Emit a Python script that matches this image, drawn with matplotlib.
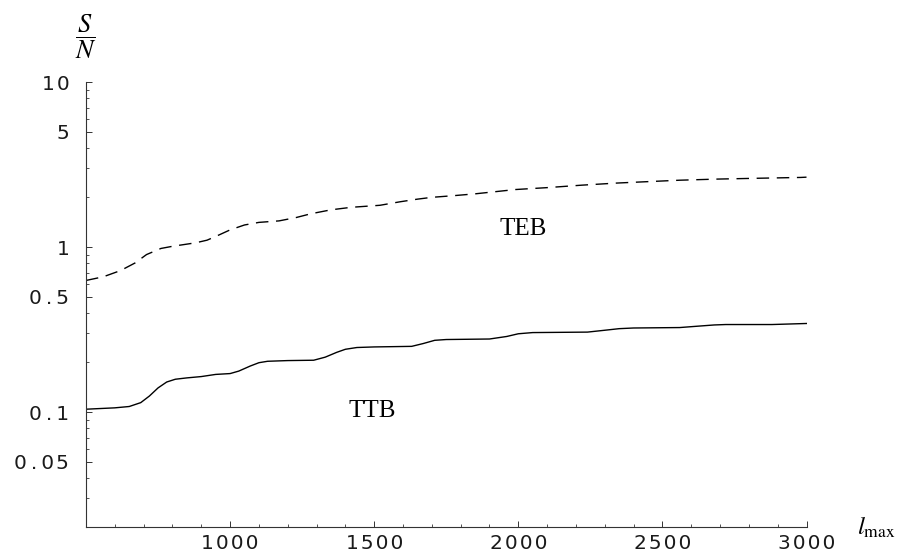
import matplotlib
matplotlib.use("Agg")
import matplotlib.pyplot as plt
from matplotlib.ticker import FixedLocator, FixedFormatter, NullFormatter

# ---- data ----
ttb_l = [500, 550, 600, 650, 690, 720, 750, 780, 810, 850, 900, 950, 1000, 1030,
         1070, 1100, 1130, 1200, 1290, 1330, 1370, 1400, 1440, 1500, 1630, 1670,
         1710, 1750, 1900, 1960, 2000, 2050, 2240, 2300, 2350, 2400, 2560, 2620,
         2680, 2720, 2880, 3000]
ttb_v = [0.104, 0.105, 0.106, 0.108, 0.114, 0.125, 0.140, 0.152, 0.158, 0.161,
         0.164, 0.169, 0.171, 0.177, 0.190, 0.199, 0.203, 0.205, 0.206, 0.215,
         0.230, 0.240, 0.246, 0.248, 0.250, 0.260, 0.272, 0.275, 0.277, 0.287,
         0.298, 0.303, 0.305, 0.313, 0.320, 0.323, 0.325, 0.331, 0.337, 0.339,
         0.339, 0.344]

teb_l = [500, 560, 620, 670, 710, 760, 800, 880, 920, 960, 1000, 1050, 1100, 1170,
         1230, 1280, 1350, 1420, 1520, 1590, 1650, 1700, 1780, 1850, 1990, 2100,
         2220, 2340, 2450, 2560, 2690, 2830, 2980, 3000]
teb_v = [0.627, 0.66, 0.72, 0.80, 0.90, 0.98, 1.01, 1.06, 1.10, 1.18, 1.27, 1.36,
         1.41, 1.44, 1.51, 1.59, 1.68, 1.74, 1.79, 1.88, 1.95, 2.00, 2.05, 2.10,
         2.23, 2.29, 2.37, 2.44, 2.49, 2.54, 2.58, 2.61, 2.64, 2.65]

y_major = [0.05, 0.1, 0.5, 1, 5, 10]
y_major_labels = ["0.05", "0.1", "0.5", "1", "5", "10"]
y_minor = [0.02, 0.03, 0.04, 0.06, 0.07, 0.08, 0.09, 0.2, 0.3, 0.4, 0.6, 0.7,
           0.8, 0.9, 2, 3, 4, 6, 7, 8, 9]
x_major = [1000, 1500, 2000, 2500, 3000]
x_major_labels = ["1000", "1500", "2000", "2500", "3000"]
x_minor = list(range(500, 3001, 100))

curve_labels = ["TEB", "TTB"]
curve_label_pos = [(2018, 1.29), (1494, 0.102)]


def spaced(s):
    # widen the tick label text like the reference's spaced monospace digits
    out = []
    for i, ch in enumerate(s):
        if ch == ".":
            out.append("\u2009.\u2009")
        else:
            out.append(ch)
            if i < len(s) - 1 and s[i + 1] != ".":
                out.append("\u200a")
    return "".join(out)


W, H = 899, 558
fig = plt.figure(figsize=(W / 100, H / 100), dpi=100)
left, right, bottom, top = 86, 806.5, 527, 82
ax = fig.add_axes([left / W, 1 - bottom / H, (right - left) / W, (bottom - top) / H])

ax.plot(teb_l, teb_v, color="black", lw=1.0, ls=(0, (9, 5.5)))
ax.plot(ttb_l, ttb_v, color="black", lw=1.0)

ax.set_yscale("log")
ax.set_xlim(500, 3000)
ax.set_ylim(0.0201, 10)

for s in ["top", "right"]:
    ax.spines[s].set_visible(False)
for s in ["left", "bottom"]:
    ax.spines[s].set_linewidth(0.8)
    ax.spines[s].set_color("#333333")

ax.yaxis.set_major_locator(FixedLocator(y_major))
ax.yaxis.set_major_formatter(FixedFormatter([spaced(t) for t in y_major_labels]))
ax.yaxis.set_minor_locator(FixedLocator(y_minor))
ax.yaxis.set_minor_formatter(NullFormatter())
ax.xaxis.set_major_locator(FixedLocator(x_major))
ax.xaxis.set_major_formatter(FixedFormatter([spaced(t) for t in x_major_labels]))
ax.xaxis.set_minor_locator(FixedLocator(x_minor))
ax.xaxis.set_minor_formatter(NullFormatter())

ax.tick_params(which="major", direction="in", length=4, width=0.7, color="#333333",
               labelsize=14.5)
ax.tick_params(which="minor", direction="in", length=2.2, width=0.6, color="#333333")
ax.tick_params(axis="y", which="major", pad=12)
ax.tick_params(axis="x", which="major", pad=5)
for lab in ax.get_xticklabels() + ax.get_yticklabels():
    lab.set_family("DejaVu Sans")
    lab.set_color("#1a1a1a")

serif = "Liberation Serif"
for txt, (lx, ly) in zip(curve_labels, curve_label_pos):
    ax.text(lx, ly, txt, fontsize=18, family=serif, ha="center", va="center")

plt.rcParams["mathtext.fontset"] = "stix"
fig.text(86 / W, 1 - 37 / H, r"$\dfrac{S}{N}$", fontsize=19, ha="center", va="center")
fig.text(857 / W, 1 - 527 / H, r"$l_{\mathrm{max}}$", fontsize=18, ha="left",
         va="center")

fig.savefig("out.png", dpi=100, facecolor="white")
